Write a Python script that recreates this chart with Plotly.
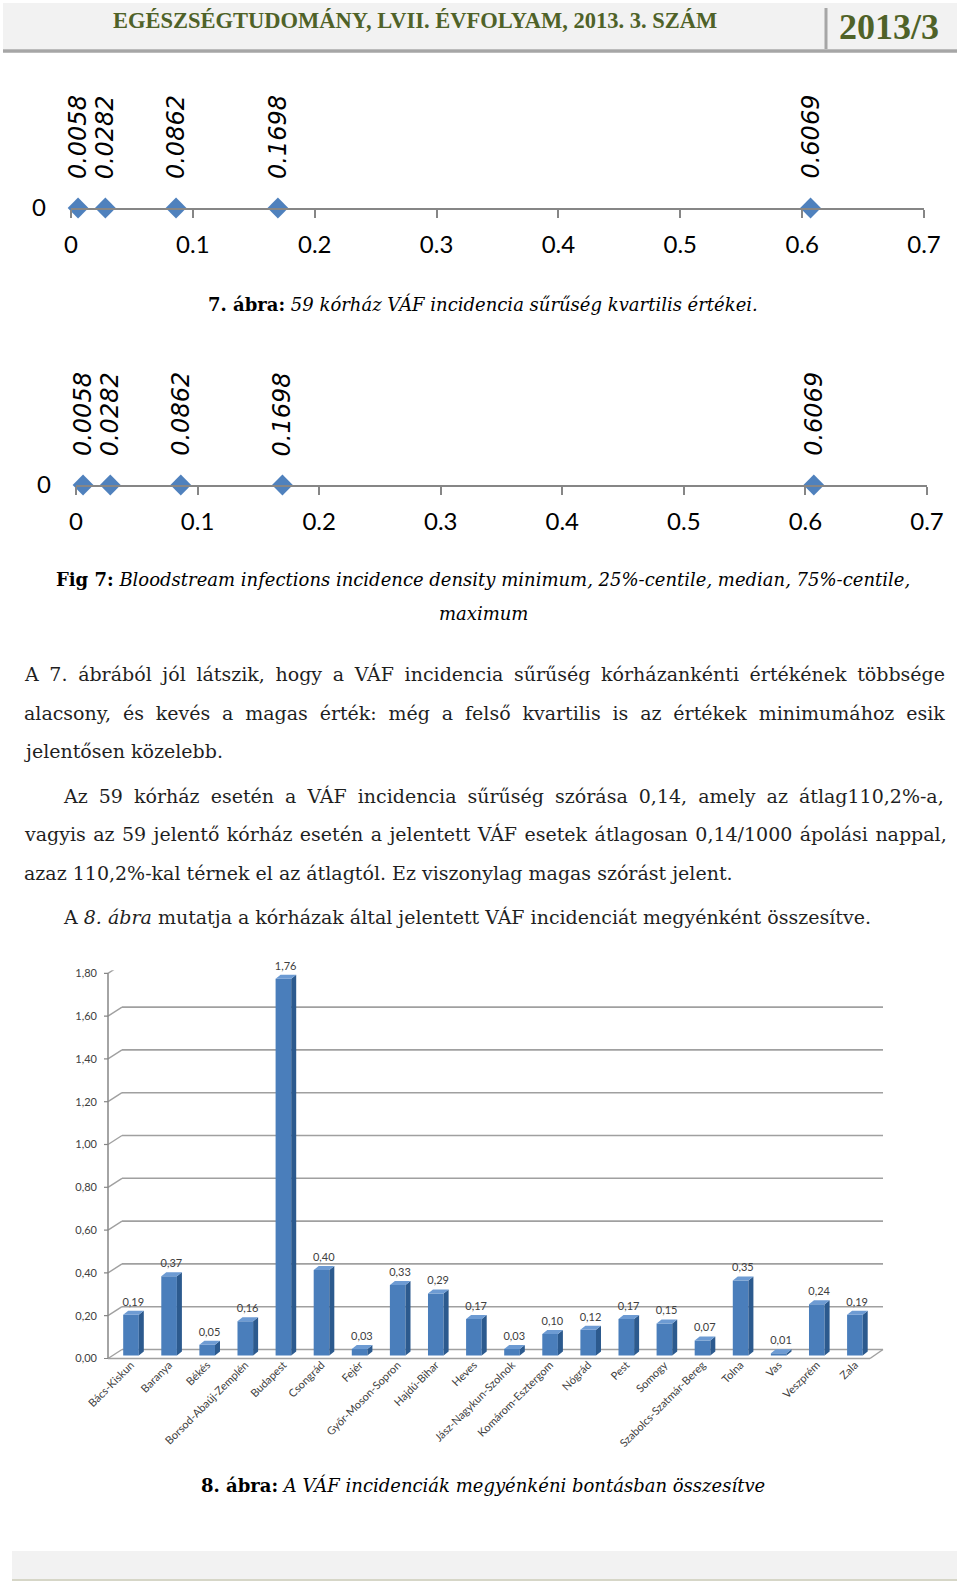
import plotly.graph_objects as go

W, H = 960, 1590


def px(x):
    return x / W


def py(y):
    return 1 - y / H


# --- fig 7: quartile values (same data drawn twice) ---
quartile_values = [0.0058, 0.0282, 0.0862, 0.1698, 0.6069]
quartile_labels = ['0.0058', '0.0282', '0.0862', '0.1698', '0.6069']
axis_ticks = [0, 0.1, 0.2, 0.3, 0.4, 0.5, 0.6, 0.7]
axis_ticktext = ['0', '0.1', '0.2', '0.3', '0.4', '0.5', '0.6', '0.7']

# --- fig 8: incidence by county ---
counties = ['Bács-Kiskun', 'Baranya', 'Békés', 'Borsod-Abaúj-Zemplén', 'Budapest',
            'Csongrád', 'Fejér', 'Győr-Moson-Sopron', 'Hajdú-Bihar', 'Heves',
            'Jász-Nagykun-Szolnok', 'Komárom-Esztergom', 'Nógrád', 'Pest', 'Somogy',
            'Szabolcs-Szatmár-Bereg', 'Tolna', 'Vas', 'Veszprém', 'Zala']
incidence = [0.19, 0.37, 0.05, 0.16, 1.76, 0.40, 0.03, 0.33, 0.29, 0.17,
             0.03, 0.10, 0.12, 0.17, 0.15, 0.07, 0.35, 0.01, 0.24, 0.19]
bar_ticks = [0, 0.2, 0.4, 0.6, 0.8, 1.0, 1.2, 1.4, 1.6, 1.8]

BLUE = '#4f81bd'
AXIS_GRAY = '#868686'
CHART_TEXT = '#404040'
BODY = '#1f1f1f'
SERIF = 'DejaVu Serif'
SANS = 'Lato'

fig = go.Figure()
annotations = []
shapes = []

# ---------------- dot plots (fig 7 and Fig 7) ----------------
dot_axes = [
    # (x axis name, y axis name, left px, right px, axis y px)
    ('x', 'y', 71, 924, 208),
    ('x2', 'y2', 76, 927, 485),
]
for xa, ya, left, right, axis_y in dot_axes:
    fig.add_trace(go.Scatter(
        x=quartile_values, y=[0] * len(quartile_values),
        mode='markers', xaxis=xa, yaxis=ya, cliponaxis=False,
        marker=dict(symbol='diamond', size=16, color=BLUE),
        showlegend=False, hoverinfo='skip'))
    for v, lab in zip(quartile_values, quartile_labels):
        annotations.append(dict(
            x=v, y=0, xref=xa, yref=ya, text='<i>' + lab + '</i>',
            textangle=-90, xanchor='center', yanchor='bottom', yshift=27,
            showarrow=False, font=dict(family='DejaVu Sans', size=24, color='#000000')))
    xkey = 'xaxis' if xa == 'x' else 'xaxis2'
    ykey = 'yaxis' if ya == 'y' else 'yaxis2'
    fig.layout[xkey] = dict(
        domain=[px(left), px(right)], range=[0, 0.7], anchor=ya, automargin=False,
        tickvals=axis_ticks, ticktext=axis_ticktext,
        showline=True, linecolor=AXIS_GRAY, linewidth=2,
        ticks='outside', ticklen=8, tickcolor=AXIS_GRAY, tickwidth=1.5,
        showgrid=False, zeroline=False, ticklabelstandoff=6,
        tickfont=dict(family=SANS, size=24, color='#000000'))
    fig.layout[ykey] = dict(
        domain=[py(axis_y), py(axis_y - 60)], range=[0, 1], anchor=xa, automargin=False,
        tickvals=[0], ticktext=['0'], showgrid=False, zeroline=False,
        showline=False, ticks='', ticklabelstandoff=24,
        tickfont=dict(family=SANS, size=24, color='#000000'))

# ---------------- bar chart (fig 8) ----------------
PX_PER_CAT = 38.1
PX_PER_UNIT = 214.0
BASE_Y = 1355.5
X_LEFT, X_RIGHT = 108, 883
x0 = -(131 - X_LEFT) / PX_PER_CAT
x1 = x0 + (X_RIGHT - X_LEFT) / PX_PER_CAT
FRONT = -3 / PX_PER_UNIT
BACK = 6 / PX_PER_UNIT
PAD = 12 / PX_PER_UNIT  # room below the floor so the 0,00 label stays inside the range
bar_w = 0.41
dxu = 5 / PX_PER_CAT
dyu = 4 / PX_PER_UNIT
idx = list(range(len(counties)))

fig.add_trace(go.Bar(
    x=idx, y=incidence, width=bar_w, xaxis='x3', yaxis='y3',
    marker=dict(color='#4a7ebb', line=dict(width=0)),
    showlegend=False, hoverinfo='skip'))

side_x, side_y, top_x, top_y = [], [], [], []
for i, v in zip(idx, incidence):
    xl, xr = i - bar_w / 2, i + bar_w / 2
    side_x += [xr, xr + dxu, xr + dxu, xr, xr, None]
    side_y += [0, dyu, v + dyu, v, 0, None]
    top_x += [xl, xl + dxu, xr + dxu, xr, xl, None]
    top_y += [v, v + dyu, v + dyu, v, v, None]
fig.add_trace(go.Scatter(x=side_x, y=side_y, xaxis='x3', yaxis='y3', mode='lines',
                         fill='toself', fillcolor='#2c5a8e', line=dict(width=0, color='#2c5a8e'),
                         showlegend=False, hoverinfo='skip'))
fig.add_trace(go.Scatter(x=top_x, y=top_y, xaxis='x3', yaxis='y3', mode='lines',
                         fill='toself', fillcolor='#6d9bd3', line=dict(width=0, color='#6d9bd3'),
                         showlegend=False, hoverinfo='skip'))
fig.add_trace(go.Scatter(
    x=[i + 0.06 for i in idx], y=[v + 0.03 for v in incidence],
    text=[f'{v:.2f}'.replace('.', ',') for v in incidence],
    mode='text', textposition='top center', xaxis='x3', yaxis='y3', cliponaxis=False,
    textfont=dict(family=SANS, size=11, color=CHART_TEXT),
    showlegend=False, hoverinfo='skip'))
# invisible trace so the label axis is drawn
fig.add_trace(go.Scatter(x=[0.5], y=[0.5], xaxis='x3', yaxis='y4', mode='markers',
                         marker=dict(opacity=0), showlegend=False, hoverinfo='skip'))

# 3D frame: back-wall gridlines, diagonals, front axis, floor
for v in bar_ticks:
    shapes.append(dict(type='line', xref='paper', yref='y3', x0=px(122), x1=px(X_RIGHT),
                       y0=v + BACK, y1=v + BACK, line=dict(color='#a0a0a0', width=1.6), layer='below'))
    shapes.append(dict(type='line', xref='paper', yref='y3', x0=px(X_LEFT), x1=px(122),
                       y0=v + FRONT, y1=v + BACK, line=dict(color='#a0a0a0', width=1.4), layer='below'))
    shapes.append(dict(type='line', xref='paper', yref='y3', x0=px(X_LEFT - 4), x1=px(X_LEFT),
                       y0=v + FRONT, y1=v + FRONT, line=dict(color=AXIS_GRAY, width=1.2), layer='below'))
shapes.append(dict(type='line', xref='paper', yref='y3', x0=px(X_LEFT), x1=px(X_LEFT),
                   y0=FRONT, y1=bar_ticks[-1] + FRONT, line=dict(color=AXIS_GRAY, width=1.5), layer='below'))
shapes.append(dict(type='line', xref='paper', yref='y3', x0=px(X_LEFT), x1=px(870),
                   y0=FRONT, y1=FRONT, line=dict(color='#a0a0a0', width=1.5), layer='below'))
shapes.append(dict(type='line', xref='paper', yref='y3', x0=px(870), x1=px(X_RIGHT),
                   y0=FRONT, y1=BACK, line=dict(color='#a0a0a0', width=1.5), layer='below'))

bar_top = BASE_Y - 1.8 * PX_PER_UNIT
bar_domain = [py(BASE_Y + PAD * PX_PER_UNIT), py(bar_top)]
fig.layout['xaxis3'] = dict(
    domain=[px(X_LEFT), px(X_RIGHT)], range=[x0, x1], anchor='y3', automargin=False,
    tickvals=idx, ticktext=counties, tickangle=-45, ticks='',
    showgrid=False, zeroline=False, showline=False, ticklabelstandoff=-12,
    tickfont=dict(family=SANS, size=11, color=CHART_TEXT))
fig.layout['yaxis3'] = dict(
    domain=bar_domain, range=[-PAD, 1.8], anchor='x3', automargin=False,
    showticklabels=False, showgrid=False, zeroline=False, showline=False, ticks='')
fig.layout['yaxis4'] = dict(
    domain=bar_domain, range=[-PAD - FRONT, 1.8 - FRONT], anchor='x3', overlaying='y3',
    automargin=False, tickvals=bar_ticks, tickformat='.2f', showgrid=False, zeroline=False,
    showline=False, ticks='', ticklabelstandoff=10,
    tickfont=dict(family=SANS, size=11, color=CHART_TEXT))

# ---------------- page furniture ----------------
shapes += [
    dict(type='rect', xref='paper', yref='paper', x0=px(3), x1=px(957), y0=py(3), y1=py(49),
         fillcolor='#f2f2f2', line=dict(width=0), layer='below'),
    dict(type='line', xref='paper', yref='paper', x0=px(3), x1=px(957), y0=py(51), y1=py(51),
         line=dict(color='#a6a6a6', width=3.5)),
    dict(type='line', xref='paper', yref='paper', x0=px(826), x1=px(826), y0=py(8), y1=py(49),
         line=dict(color='#a6a6a6', width=3)),
    dict(type='rect', xref='paper', yref='paper', x0=px(12), x1=px(957), y0=py(1551), y1=py(1579),
         fillcolor='#f2f2f2', line=dict(width=0), layer='below'),
    dict(type='line', xref='paper', yref='paper', x0=px(12), x1=px(957), y0=py(1580), y1=py(1580),
         line=dict(color='#c8c8b4', width=1.5)),
]


def page_text(x, y, text, size, family=SERIF, color='#000000', xanchor='center'):
    annotations.append(dict(x=px(x), y=py(y), xref='paper', yref='paper', showarrow=False,
                            xanchor=xanchor, yanchor='middle', text=text,
                            font=dict(family=family, size=size, color=color)))


page_text(415, 21, '<b>EGÉSZSÉGTUDOMÁNY, LVII. ÉVFOLYAM, 2013. 3. SZÁM</b>', 22.5,
          family='Liberation Serif', color='#4f6228')
page_text(889, 27, '<b>2013/3</b>', 36, family='Liberation Serif', color='#4f6228')

captions = [
    (304, '<b>7. ábra:</b> <i>59 kórház VÁF incidencia sűrűség kvartilis értékei.</i>'),
    (579, '<b>Fig 7:</b> <i>Bloodstream infections incidence density minimum, 25%-centile, median, 75%-centile,</i>'),
    (613, '<i>maximum</i>'),
    (1485, '<b>8. ábra:</b> <i>A VÁF incidenciák megyénkéni bontásban összesítve</i>'),
]
for y, t in captions:
    page_text(483, y, t, 18)

# body lines: x, y, text, extra word spacing for justified lines
body_lines = [
    (22, 674, 'A 7. ábrából jól látszik, hogy a VÁF incidencia sűrűség kórházankénti értékének többsége', 4.6),
    (22, 713, 'alacsony, és kevés a magas érték: még a felső kvartilis is az értékek minimumához esik', 5.8),
    (22, 751, 'jelentősen közelebb.', 0),
    (61, 796, 'Az 59 kórház esetén a VÁF incidencia sűrűség szórása 0,14, amely az átlag110,2%-a,', 5.0),
    (22, 834, 'vagyis az 59 jelentő kórház esetén a jelentett VÁF esetek átlagosan 0,14/1000 ápolási nappal,', 1.4),
    (22, 873, 'azaz 110,2%-kal térnek el az átlagtól. Ez viszonylag magas szórást jelent.', 0),
    (61, 917, 'A <i>8. ábra</i> mutatja a kórházak által jelentett VÁF incidenciát megyénként összesítve.', 0),
]
for x, y, t, ws in body_lines:
    if ws:
        t = f'<span style="word-spacing:{ws}px">{t}</span>'
    page_text(x, y, t, 19, color=BODY, xanchor='left')

fig.update_layout(
    width=W, height=H, margin=dict(l=0, r=0, t=0, b=0, pad=0, autoexpand=False),
    plot_bgcolor='white', paper_bgcolor='white',
    separators=',.', showlegend=False,
    annotations=annotations, shapes=shapes,
    bargap=0.5,
)

fig.write_html('out.html', config={'displayModeBar': False},
               post_script="document.body.style.margin='0';")
